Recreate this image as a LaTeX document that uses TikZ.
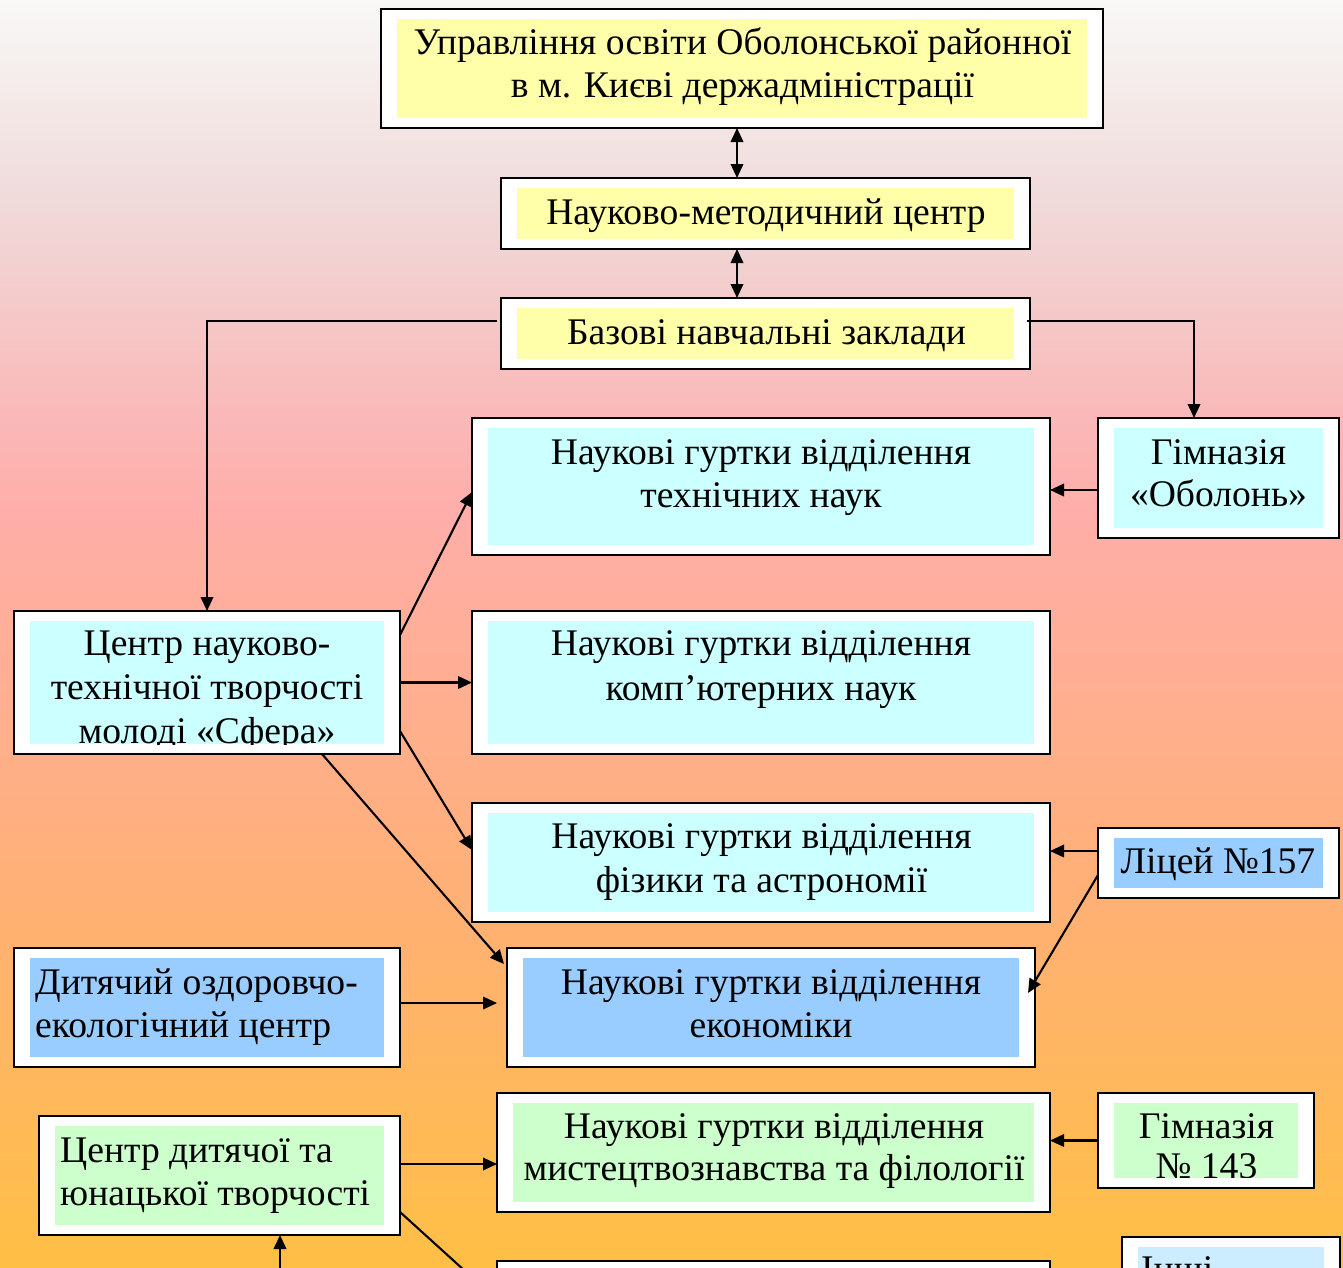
\documentclass[tikz,border=0pt]{standalone}
\usepackage{fontspec}
\setmainfont{Liberation Serif}
\usetikzlibrary{arrows.meta,calc}
\definecolor{cyel}{HTML}{FFFFAA}
\definecolor{ccyan}{HTML}{CCFFFF}
\definecolor{cblue}{HTML}{99CCFF}
\definecolor{cgreen}{HTML}{CCFFCC}
\definecolor{cpale}{HTML}{CCECFF}
\pgfdeclareverticalshading{bgshade}{100bp}{rgb(0bp)=(1,0.75,0.27); rgb(25bp)=(1,0.75,0.27); rgb(39.5bp)=(1,0.69,0.46); rgb(54.5bp)=(1,0.68,0.66); rgb(58.4bp)=(0.98,0.72,0.72); rgb(67.1bp)=(0.94,0.855,0.855); rgb(75bp)=(0.973,0.973,0.965); rgb(100bp)=(0.973,0.973,0.965)}
\newcommand\ml[2]{\begin{tabular}[t]{@{}#1@{}}#2\end{tabular}}
\newcommand\fs[2]{\fontsize{#1}{#2}\selectfont}
\tikzset{
  obox/.style={draw=black, line width=2pt, fill=white, inner sep=0pt, outer sep=0pt},
  lbl/.style={inner sep=0pt, anchor=base},
  lbll/.style={inner sep=0pt, anchor=base west},
  arr/.style={line width=2.1pt, -{Triangle[length=14pt,width=12.5pt]}},
  dbl/.style={line width=2.1pt, {Triangle[length=14pt,width=12.5pt]}-{Triangle[length=14pt,width=12.5pt]}}
}
\newcommand\bx[6]{%
  \node[obox, minimum width={#4-#2}, minimum height={#5-#3}] (#1) at ({(#2+#4)/2},{(#3+#5)/2}) {};
  \fill[#6] ($(#1.north west)+(16,10)$) rectangle ($(#1.south east)+(-16,-10)$);
}
\begin{document}
\begin{tikzpicture}[x=1pt,y=-1pt]
\useasboundingbox (0,0) rectangle (1343,1267);
\clip (0,0) rectangle (1343,1267);
\shade[shading=bgshade] (0,0) rectangle (1343,1267);

\bx{b1}{381}{9}{1103}{128}{cyel}
\bx{b2}{501}{178}{1030}{249}{cyel}
\bx{b3}{501}{298}{1030}{369}{cyel}
\bx{t1}{472}{418}{1050}{555}{ccyan}
\bx{g1}{1098}{418}{1339}{538}{ccyan}
\bx{c1}{14}{611}{400}{754}{ccyan}
\bx{t2}{472}{611}{1050}{754}{ccyan}
\bx{t3}{472}{803}{1050}{922}{ccyan}
\bx{l1}{1098}{828}{1339}{898}{cblue}
\bx{t4}{507}{948}{1035}{1067}{cblue}
\bx{d1}{14}{948}{400}{1067}{cblue}
\bx{t5}{497}{1093}{1050}{1212}{cgreen}
\bx{g2}{1098}{1093}{1314}{1188}{cgreen}
\bx{c2}{39}{1116}{400}{1235}{cgreen}
\bx{t6}{497}{1261}{1050}{1380}{ccyan}
\bx{o1}{1122}{1237}{1340}{1356}{cpale}

\node[lbl, font=\fs{37.6}{43}] (b1t) at (742.5,54) {\ml{c}{Управління освіти Оболонської районної\\в м. Києві держадміністрації}};
\node[lbl, font=\fs{37.6}{43}] (b2t) at (766,224) {Науково-методичний центр};
\node[lbl, font=\fs{37.6}{43}] (b3t) at (766.5,344) {Базові навчальні заклади};
\node[lbl, font=\fs{37.6}{43}] (t1t) at (761,464) {\ml{c}{Наукові гуртки відділення\\технічних наук}};
\node[lbl, font=\fs{37.6}{42}] (g1t) at (1218.5,464) {\ml{c}{Гімназія\\«Оболонь»}};
\begin{scope}
\clip ($(c1.north west)+(16,10)$) rectangle ($(c1.south east)+(-16,-10)$);
\node[lbl, font=\fs{37.6}{44}] (c1t) at (207,655) {\ml{c}{Центр науково-\\технічної творчості\\молоді «Сфера»}};
\end{scope}
\node[lbl, font=\fs{37.6}{45}] (t2t) at (761,655) {\ml{c}{Наукові гуртки відділення\\комп’ютерних наук}};
\node[lbl, font=\fs{37.6}{44}] (t3t) at (761.5,848) {\ml{c}{Наукові гуртки відділення\\фізики та астрономії}};
\node[lbl, font=\fs{37.6}{43}] (l1t) at (1218,873) {Ліцей №157};
\node[lbl, font=\fs{37.6}{43}] (t4t) at (771,994) {\ml{c}{Наукові гуртки відділення\\економіки}};
\node[lbll, font=\fs{37.6}{43}] (d1t) at (35,994) {\ml{l}{Дитячий оздоровчо-\\екологічний центр}};
\node[lbl, font=\fs{37.6}{42}] (t5t) at (774,1138) {\ml{c}{Наукові гуртки відділення\\мистецтвознавства та філології}};
\begin{scope}
\clip ($(g2.north west)+(16,10)$) rectangle ($(g2.south east)+(-16,-11)$);
\node[lbl, font=\fs{37.6}{40}] (g2t) at (1206.5,1138) {\ml{c}{Гімназія\\№ 143}};
\end{scope}
\node[lbll, font=\fs{37.6}{43}] (c2t) at (60,1162) {\ml{l}{Центр дитячої та\\юнацької творчості}};
\node[lbll, font=\fs{37.6}{43}] (o1t) at (1141,1281) {Інші};

\draw[dbl] ([xshift=236pt]b2.north west) -- ([xshift=236pt]b2.north west |- b1.south);
\draw[dbl] ([xshift=236pt]b3.north west) -- ([xshift=236pt]b2.south west);
\draw[arr] ([shift={(-4pt,12.5pt)}]b3.west) -| (c1.north);
\draw[arr] ([shift={(-3pt,12.5pt)}]b3.east) -| ([xshift=-24.5pt]g1.north);
\draw[arr] ([yshift=-12pt]g1.west) -- ([yshift=-12pt]g1.west -| t1.east);
\draw[arr] ([yshift=47.5pt]c1.east) -- ([yshift=-5.5pt]t1.west);
\draw[arr] (c1.east) -- (c1.east -| t2.west);
\draw[arr] ([yshift=-48.5pt]c1.east) -- ([yshift=12.5pt]t3.west);
\draw[arr] ([xshift=115pt]c1.south) -- ([shift={(-3pt,-16pt)}]t4.north west);
\draw[arr] ([yshift=12pt]l1.west) -- ([yshift=12pt]l1.west -| t3.east);
\draw[arr] ([yshift=-12pt]l1.west) -- ([shift={(-7pt,14.5pt)}]t4.east);
\draw[arr] ([yshift=4.5pt]d1.east) -- ([shift={(-10pt,4.5pt)}]t4.west);
\draw[arr] (g2.west) -- (g2.west -| t5.east);
\draw[arr] ([yshift=11.5pt]c2.east) -- ([yshift=11.5pt]c2.east -| t5.west);
\coordinate (below) at (280,1300);
\draw[arr] (below) -- (below |- c2.south);
\draw[arr] ([yshift=-36.5pt]c2.east) -- ([yshift=20.5pt]t6.west);
\end{tikzpicture}
\end{document}
